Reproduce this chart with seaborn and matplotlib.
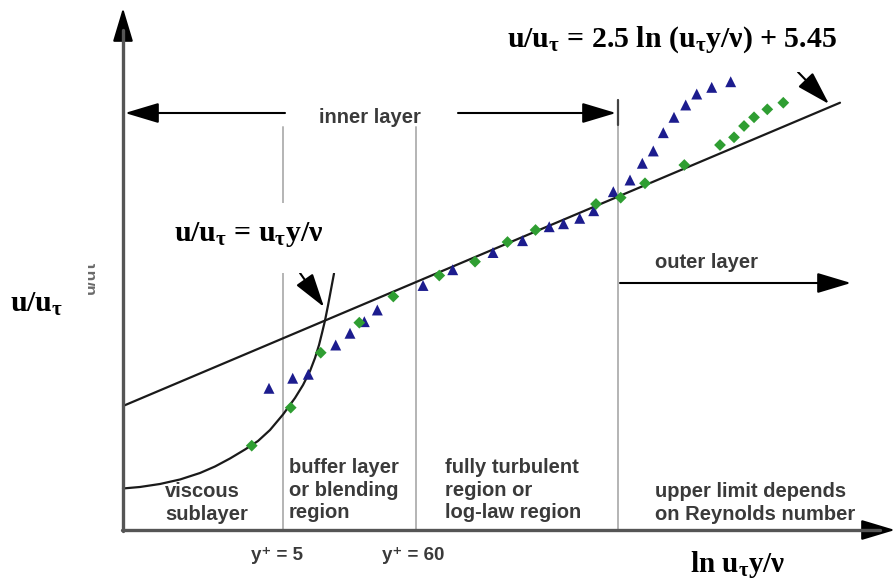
import numpy as np
import pandas as pd
import matplotlib
matplotlib.use("Agg")
import matplotlib.pyplot as plt
from matplotlib.patches import Rectangle
from matplotlib.lines import Line2D
import seaborn as sns

# ---- data: wall coordinate ln(y+) and velocity u+ --------------------------
# profile 1 (triangles)
tri_ln_yplus = [1.347, 1.790, 2.082, 2.594, 2.861, 3.129, 3.372, 4.226, 4.781,
                5.534, 6.086, 6.585, 6.852, 7.155, 7.416, 7.783, 8.095, 8.325,
                8.530, 8.717, 8.917, 9.136, 9.342, 9.622, 9.977]
tri_uplus = [3.95, 5.06, 5.50, 8.73, 10.03, 11.31, 12.60, 15.31, 17.05,
             18.95, 20.26, 21.80, 22.13, 22.73, 23.57, 25.67, 26.96, 28.81,
             30.17, 32.19, 33.89, 35.25, 36.46, 37.20, 37.82]
# profile 2 (diamonds)
dia_ln_yplus = [1.024, 1.753, 2.314, 3.035, 3.671, 4.530, 5.198, 5.805, 6.329,
                7.459, 7.921, 8.375, 9.110, 9.777, 10.039, 10.226, 10.413,
                10.661, 10.960]
dia_uplus = [-2.39, 1.81, 7.88, 11.20, 14.09, 16.41, 17.94, 20.11, 21.44,
             24.31, 25.01, 26.60, 28.62, 30.83, 31.68, 32.93, 33.89, 34.77,
             35.50]
# viscous sublayer curve as sketched
visc_ln_yplus = [-1.382, -1.064, -0.690, -0.316, 0.058, 0.338, 0.618, 0.899,
                 1.142, 1.366, 1.609, 1.833, 1.983, 2.114, 2.207, 2.282,
                 2.338, 2.394, 2.450, 2.506, 2.562]
visc_uplus = [-7.119, -6.953, -6.622, -6.125, -5.407, -4.688, -3.805, -2.810,
              -1.871, -0.656, 1.056, 2.879, 4.315, 5.862, 7.298, 8.734,
              10.06, 11.44, 13.10, 14.87, 16.63]
# log law u+ = 2.5 ln(y+) + 5.45
loglaw_slope = 2.5
loglaw_const = 5.45
loglaw_ln_range = [-1.382, 12.02]
# region boundaries in y+
yplus_bounds = [5, 60]
ln_yplus_outer = 7.87

W, H = 895, 579
sns.set_style("white")
plt.rcParams["mathtext.fontset"] = "custom"
plt.rcParams["mathtext.rm"] = "Liberation Serif:bold"
plt.rcParams["mathtext.it"] = "Liberation Serif:bold"
plt.rcParams["mathtext.bf"] = "Liberation Serif:bold"

fig = plt.figure(figsize=(W / 100, H / 100), dpi=100)
ax = fig.add_axes([0, 0, 1, 1])
ax.set_xlim(-3.681, 13.048)
ax.set_ylim(-17.12, 46.85)
ax.axis("off")


def F(px, py):
    """figure fraction from top-left pixel position"""
    return (px / W, 1 - py / H)


SANS = ["Liberation Sans", "DejaVu Sans"]
GREY_TXT = "#3a3a3a"

# region separators
for yp in yplus_bounds:
    ax.axvline(np.log(yp), ymin=1 - 530 / H, ymax=1 - 127 / H,
               color="#b4b4b4", lw=1.4, zorder=1)
ax.axvline(ln_yplus_outer, ymin=1 - 530 / H, ymax=1 - 100 / H,
           color="#b4b4b4", lw=1.4, zorder=1)
ax.axvline(ln_yplus_outer, ymin=1 - 125 / H, ymax=1 - 100 / H,
           color="#444444", lw=1.6, zorder=2)

# log-law line
ll_x = np.array(loglaw_ln_range)
ll = pd.DataFrame({"x": ll_x, "y": loglaw_slope * ll_x + loglaw_const})
sns.lineplot(data=ll, x="x", y="y", color="#1a1a1a", lw=1.6, ax=ax, zorder=3)

# viscous sublayer curve
vc = pd.DataFrame({"x": visc_ln_yplus, "y": visc_uplus})
sns.lineplot(data=vc, x="x", y="y", color="#1a1a1a", lw=1.6, ax=ax,
             sort=False, zorder=3)

# measured profiles
sns.scatterplot(x=tri_ln_yplus, y=tri_uplus, marker="^", s=62,
                color="#1c1c8e", edgecolor="none", ax=ax, zorder=5)
sns.scatterplot(x=dia_ln_yplus, y=dia_uplus, marker="D", s=36,
                color="#2f9e32", edgecolor="none", ax=ax, zorder=5)

# coordinate axes
for (x0, y0), (x1, y1) in [((123, 531), (123, 30)), ((122, 530), (880, 530))]:
    fig.add_artist(Line2D([F(x0, y0)[0], F(x1, y1)[0]],
                          [F(x0, y0)[1], F(x1, y1)[1]],
                          transform=fig.transFigure, color="#555555", lw=2.4,
                          zorder=4))


def arrow(tail, tip, hl=1.5, hw=0.45, lw=1.5, color="black"):
    ax.annotate("", xy=F(*tip), xytext=F(*tail), xycoords="figure fraction",
                textcoords="figure fraction",
                arrowprops=dict(arrowstyle=f"-|>,head_length={hl},head_width={hw}",
                                color=color, lw=lw, shrinkA=0, shrinkB=0,
                                mutation_scale=14), zorder=6)


arrow((123, 40), (123, 8))
arrow((870, 530), (895, 530))

# inner / outer layer arrows
arrow((285, 113), (125, 113))
arrow((458, 113), (616, 113))
arrow((620, 283), (851, 283))
fig.text(*F(370, 117), "inner layer", ha="center", va="center",
         fontsize=14.5, fontweight="bold", family=SANS, color=GREY_TXT)
fig.text(*F(707, 262), "outer layer", ha="center", va="center",
         fontsize=14.5, fontweight="bold", family=SANS, color=GREY_TXT)

# region descriptions
fig.text(*F(165, 503), "viscous\nsublayer", ha="left", va="center",
         fontsize=14.5, fontweight="bold", family=SANS, color=GREY_TXT,
         linespacing=1.25)
fig.text(*F(289, 490), "buffer layer\nor blending\nregion", ha="left",
         va="center", fontsize=14.5, fontweight="bold", family=SANS,
         color=GREY_TXT, linespacing=1.25)
fig.text(*F(445, 490), "fully turbulent\nregion or\nlog-law region",
         ha="left", va="center", fontsize=14.5, fontweight="bold",
         family=SANS, color=GREY_TXT, linespacing=1.25)
fig.text(*F(655, 503), "upper limit depends\non Reynolds number", ha="left",
         va="center", fontsize=14.5, fontweight="bold", family=SANS,
         color=GREY_TXT, linespacing=1.25)

# y+ markers under the axis
fig.text(*F(277, 556), "y\u207a = 5", ha="center", va="center",
         fontsize=13.5, fontweight="bold", family=SANS, color=GREY_TXT)
fig.text(*F(413, 556), "y\u207a = 60", ha="center", va="center",
         fontsize=13.5, fontweight="bold", family=SANS, color=GREY_TXT)

# faint rotated axis caption, partly covered
fig.text(*F(90, 277), "u/u\u03c4", rotation=90, ha="center", va="center",
         fontsize=12.5, fontweight="bold", family=SANS, color="#6a6a6a")
fig.add_artist(Rectangle(F(70, 310), 18 / W, 60 / H, transform=fig.transFigure,
                         facecolor="white", edgecolor="none", zorder=7))

# equation labels
SERIF = "Liberation Serif"
fig.add_artist(Rectangle(F(160, 273), 185 / W, 70 / H, transform=fig.transFigure,
                         facecolor="white", edgecolor="none", zorder=7))
fig.add_artist(Rectangle(F(490, 72), 370 / W, 65 / H, transform=fig.transFigure,
                         facecolor="white", edgecolor="none", zorder=7))
arrow((300, 273), (324, 307))
arrow((798, 72), (829, 104))

fig.text(*F(672, 47), r"u/u$_{τ}$ = 2.5 ln (u$_{τ}$y/ν) + 5.45", ha="center",
         va="baseline", fontsize=21.5, fontweight="bold", family=SERIF,
         color="black", zorder=8)
fig.text(*F(249, 241), r"u/u$_{τ}$ = u$_{τ}$y/ν", ha="center", va="baseline",
         fontsize=21.5, fontweight="bold", family=SERIF, color="black",
         zorder=8)
fig.text(*F(10, 312), r"u/u$_{τ}$", ha="left", va="baseline", fontsize=21.5,
         fontweight="bold", family=SERIF, color="black", zorder=8)
fig.text(*F(738, 572), r"ln u$_{τ}$y/ν", ha="center", va="baseline",
         fontsize=21, fontweight="bold", family=SERIF, color="black", zorder=8)

fig.savefig("out.png", dpi=100)
